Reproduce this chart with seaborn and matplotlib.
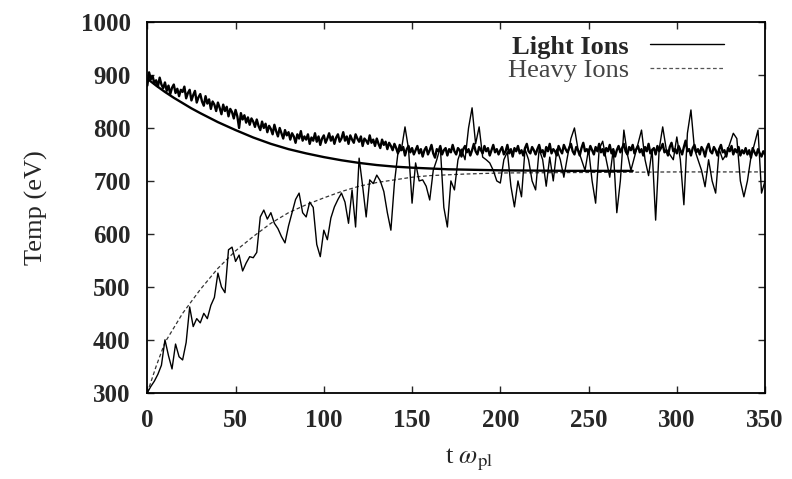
import numpy as np
import pandas as pd
import matplotlib
matplotlib.use("Agg")
import matplotlib.pyplot as plt
from matplotlib.lines import Line2D
import seaborn as sns

# ---- data ----
t_light = np.arange(0, 351, 1)
light_sim = [
    880, 905, 892, 898, 884, 890, 878, 895, 882, 875,
    886, 870, 880, 864, 876, 882, 866, 874, 860, 872,
    868, 878, 856, 866, 872, 852, 862, 870, 848, 858,
    864, 850, 842, 860, 846, 854, 836, 850, 844, 832,
    848, 838, 826, 844, 832, 840, 822, 836, 830, 818,
    834, 822, 800, 828, 816, 824, 810, 820, 806, 818,
    812, 802, 816, 804, 796, 812, 800, 808, 792, 804,
    798, 788, 806, 794, 784, 800, 790, 780, 796, 786,
    792, 778, 790, 784, 772, 788, 780, 794, 776, 784,
    778, 788, 770, 782, 776, 790, 774, 784, 768, 780,
    786, 772, 780, 790, 776, 784, 770, 782, 788, 774,
    780, 792, 776, 784, 770, 786, 778, 772, 788, 780,
    774, 784, 766, 780, 776, 770, 786, 772, 778, 766,
    780, 770, 762, 778, 768, 774, 760, 772, 766, 758,
    770, 762, 752, 768, 758, 764, 748, 760, 766, 754,
    762, 750, 758, 766, 752, 760, 746, 758, 764, 750,
    758, 768, 752, 744, 760, 756, 766, 750, 758, 762,
    748, 760, 754, 768, 756, 750, 762, 758, 746, 760,
    766, 754, 760, 748, 758, 770, 756, 750, 764, 758,
    752, 766, 756, 762, 748, 758, 768, 754, 760, 750,
    758, 764, 750, 756, 768, 752, 760, 746, 762, 756,
    766, 752, 758, 748, 762, 770, 756, 752, 764, 758,
    750, 760, 768, 754, 758, 746, 764, 756, 770, 752,
    760, 756, 748, 766, 758, 752, 768, 760, 754, 762,
    770, 756, 750, 764, 758, 748, 762, 772, 756, 760,
    752, 766, 758, 750, 764, 756, 770, 754, 760, 748,
    762, 756, 768, 752, 760, 746, 758, 766, 754, 762,
    770, 756, 750, 764, 758, 768, 752, 760, 766, 754,
    760, 748, 764, 756, 770, 752, 758, 762, 750, 766,
    756, 762, 770, 754, 758, 748, 764, 772, 756, 760,
    752, 766, 758, 750, 764, 776, 756, 760, 748, 762,
    768, 754, 760, 750, 764, 758, 746, 762, 770, 756,
    752, 764, 758, 748, 760, 768, 754, 758, 746, 762,
    756, 766, 750, 760, 754, 764, 748, 758, 752, 762,
    750, 758, 744, 762, 754, 748, 760, 752, 746, 756,
    750,
]

t_heavy = np.arange(0, 351, 2)
heavy_sim = [
    300, 312, 322, 335, 352, 400, 370, 345, 392, 368,
    362, 395, 462, 425, 440, 432, 450, 440, 465, 480,
    526, 500, 489, 570, 575, 548, 560, 530, 545, 557,
    555, 565, 632, 645, 628, 640, 620, 610, 595, 583,
    615, 640, 665, 677, 640, 632, 660, 650, 580, 557,
    607, 589, 630, 651, 665, 677, 660, 620, 683, 613,
    743, 690, 632, 702, 695, 711, 700, 680, 640, 607,
    696, 753, 760, 802, 760, 658, 734, 700, 702, 690,
    664, 720, 740, 764, 650, 613, 700, 683, 740, 760,
    740, 800, 838, 770, 802, 745, 740, 734, 720, 700,
    696, 740, 755, 690, 651, 700, 670, 760, 740, 700,
    683, 760, 740, 690, 745, 700, 760, 740, 707, 745,
    780, 800, 760, 740, 720, 760, 700, 658, 760, 775,
    740, 707, 760, 640, 700, 796, 750, 720, 745, 770,
    796, 740, 710, 760, 626, 760, 802, 760, 750, 740,
    783, 740, 655, 790, 834, 760, 740, 720, 689, 740,
    700, 677, 760, 740, 750, 770, 790, 780, 700, 670,
    700, 745, 770, 796, 677, 700,
]

t_light_th = [0, 5, 10, 15, 20, 25, 30, 40, 50, 60, 70, 80, 90, 100,
              110, 120, 130, 140, 150, 170, 200, 240, 275]
light_th = [893, 880, 868, 857, 847, 837, 828, 811, 796, 782, 770, 760,
            752, 745, 739, 734, 730, 727, 725, 722, 720, 719, 719]

t_heavy_th = [0, 5, 10, 20, 30, 40, 50, 60, 70, 80, 90, 100, 110, 120,
              130, 140, 150, 160, 180, 200, 250, 300, 350]
heavy_th = [300, 350, 395, 450, 495, 535, 568, 595, 620, 640, 655, 668,
            680, 690, 697, 702, 707, 710, 713, 715, 716, 717, 717]

x_ticks = [0, 50, 100, 150, 200, 250, 300, 350]
y_ticks = [300, 400, 500, 600, 700, 800, 900, 1000]

# ---- plotting ----
sns.set_style("ticks")
plt.rcParams["font.family"] = ["Liberation Serif", "DejaVu Serif"]
plt.rcParams["mathtext.fontset"] = "stix"

fig = plt.figure(figsize=(7.92, 4.79), dpi=100)
ax = fig.add_axes([0.186, 0.180, 0.780, 0.774])

df_ls = pd.DataFrame({"t": t_light, "T": light_sim})
df_hs = pd.DataFrame({"t": t_heavy, "T": heavy_sim})
df_lt = pd.DataFrame({"t": t_light_th, "T": light_th})
df_ht = pd.DataFrame({"t": t_heavy_th, "T": heavy_th})

sns.lineplot(data=df_ht, x="t", y="T", ax=ax, color="#333333", lw=0.9,
             linestyle=(0, (3, 2)), estimator=None)
sns.lineplot(data=df_lt, x="t", y="T", ax=ax, color="black", lw=1.7,
             estimator=None)
sns.lineplot(data=df_ls, x="t", y="T", ax=ax, color="black", lw=1.7,
             estimator=None)
sns.lineplot(data=df_hs, x="t", y="T", ax=ax, color="black", lw=1.0,
             estimator=None)

ax.set_xlim(0, 350)
ax.set_ylim(300, 1000)
ax.set_xticks(x_ticks)
ax.set_yticks(y_ticks)
ax.tick_params(direction="in", top=True, right=True, length=5, width=1,
               labelsize=18, pad=12)
for lab in ax.get_xticklabels() + ax.get_yticklabels():
    lab.set_fontweight("bold")
for s in ax.spines.values():
    s.set_linewidth(1.3)
    s.set_color("black")

ax.set_xlabel(r"t $\omega_{\mathrm{pl}}$", fontsize=19)
ax.set_ylabel("Temp (eV)", fontsize=19)
ax.xaxis.set_label_coords(0.52, -0.145)
ax.yaxis.set_label_coords(-0.16, 0.5)

handles = [Line2D([], [], color="black", lw=1.0),
           Line2D([], [], color="#555555", lw=0.9, linestyle=(0, (3, 2)))]
leg = ax.legend(handles, ["Light Ions", "Heavy Ions"], loc="upper right",
                frameon=False, markerfirst=False, fontsize=19,
                handlelength=2.8, handletextpad=0.8, borderaxespad=0.1,
                labelspacing=0.0, bbox_to_anchor=(0.955, 1.0))
leg.get_texts()[0].set_fontweight("bold")
leg.get_texts()[1].set_color("#444444")

fig.savefig("out.png", dpi=100)
